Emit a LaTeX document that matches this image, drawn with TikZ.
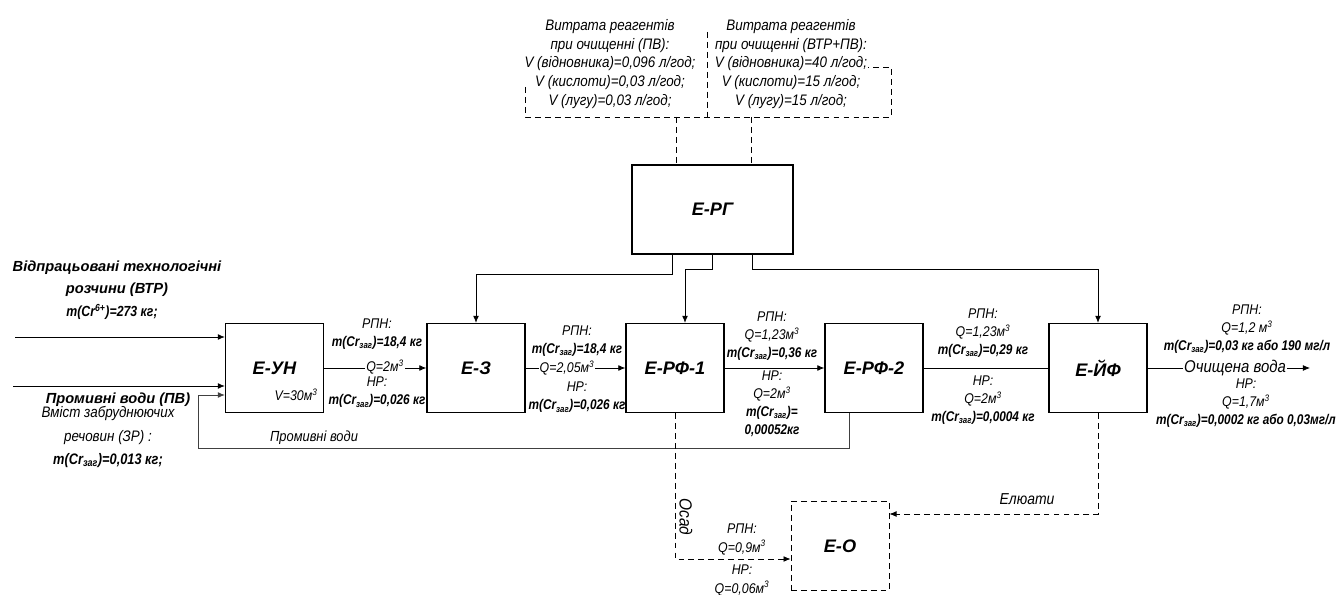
\documentclass[tikz,border=0pt]{standalone}
\usepackage{fontspec}
\setmainfont{Liberation Sans}
\newfontfamily\narrowbf[FakeStretch=0.84]{Liberation Sans}
\newfontfamily\narrowrm[FakeStretch=0.88]{Liberation Sans}
\usepackage{tikz}
\usetikzlibrary{arrows.meta,calc,positioning}

\newcommand{\mzag}{m(Cr\textsubscript{заг})}
\newcommand{\bval}[1]{{\narrowbf\bfseries\itshape #1}}
\newcommand{\kub}{м\textsuperscript{3}}

\begin{document}
\begin{tikzpicture}[x=0.03cm, y=-0.03cm, >={Latex[length=6pt,width=5pt]},
    unit/.style={draw, line width=1.1pt, minimum width=2.94cm, minimum height=2.67cm,
        font=\fontsize{15.5}{18}\selectfont\bfseries\itshape},
    dunit/.style={line width=0.8pt, dash pattern=on 5pt off 3.5pt},
    flow/.style={line width=0.7pt},
    dflow/.style={flow, dash pattern=on 5pt off 3.5pt},
    lbl/.style={align=center, inner sep=0pt, font=\narrowrm\fontsize{12}{15.5}\selectfont\itshape},
    toptxt/.style={align=center, inner sep=0pt, font=\narrowrm\fontsize{13}{16}\selectfont\itshape},
    title/.style={align=center, inner sep=0pt, font=\fontsize{12.5}{18.5}\selectfont\bfseries\itshape}]
    \useasboundingbox (0,0) rectangle (1340,595);

    % units
    \node[unit] (uh) at (274.5,368) {Е-УН};
    \node[unit] (ez) at (476,368) {Е-З};
    \node[unit] (rf1) at (675,368) {Е-РФ-1};
    \node[unit] (rf2) at (874,368) {Е-РФ-2};
    \node[unit] (yf) at (1098,368) {Е-ЙФ};
    \node[unit, minimum width=4.83cm] (rg) at (712.5,209.5) {Е-РГ};
    \node[unit, dunit] (eo) at (840,546) {Е-О};
    \node[lbl] (vol) at (296,395) {V=30\kub};

    % reagents
    \node[toptxt] (reaL) at (610,64) {Витрата реагентів\\при очищенні (ПВ):\\V (відновника)=0,096 л/год;\\V (кислоти)=0,03 л/год;\\V (лугу)=0,03 л/год;};
    \node[toptxt] (reaR) at (791,64) {Витрата реагентів\\при очищенні (ВТР+ПВ):\\V (відновника)=40 л/год;\\V (кислоти)=15 л/год;\\V (лугу)=15 л/год;};
    \draw[dflow] (525,87) -- (525,117) -- (891,117) -- (891,67) -- (868,67);
    \draw[dflow] (707,32) -- (707,117);
    \coordinate (bL) at (676,117);
    \coordinate (bR) at (751,117);
    \draw[dflow] (bL) -- (bL |- rg.north);
    \draw[dflow] (bR) -- (bR |- rg.north);

    % regenerant feeds
    \draw[flow,->] ($(rg.south)+(-40,0)$) -- ++(0,20) -| (ez.north);
    \draw[flow,->] (rg.south) -- ++(0,15) -| ($(rf1.north)+(10,0)$);
    \draw[flow,->] ($(rg.south)+(40,0)$) -- ++(0,15) -| (yf.north);

    % main line
    \draw[flow,->] (uh) -- (ez);
    \draw[flow,->] (ez) -- (rf1);
    \draw[flow,->] (rf1) -- (rf2);
    \draw[flow] (rf2) -- (yf);
    \node[inner sep=1pt, font=\narrowrm\fontsize{14.5}{16}\selectfont\itshape] (ov) at (1235,368) {Очищена вода};
    \coordinate (out) at (1310,368);
    \draw[flow] (yf) -- (ov);
    \draw[flow,->] (ov) -- (out);

    % stream labels
    \node[lbl] (l1a) at (377,334) {РПН:\\\bval{\mzag=18,4 кг}};
    \node[lbl, fill=white, inner sep=1pt] (l1q) at (385,367) {Q=2\kub};
    \node[lbl] (l1b) at (377,392.5) {НР:\\\bval{\mzag=0,026 кг}};
    \node[lbl] (l2a) at (577,341) {РПН:\\\bval{\mzag=18,4 кг}};
    \node[lbl, fill=white, inner sep=1pt] (l2q) at (567,368) {Q=2,05\kub};
    \node[lbl] (l2b) at (577,397.5) {НР:\\\bval{\mzag=0,026 кг}};
    \node[lbl] (l3a) at (772,336) {РПН:\\Q=1,23\kub\\\bval{\mzag=0,36 кг}};
    \node[lbl] (l3b) at (772,404) {НР:\\Q=2\kub\\\bval{\mzag=}\\\bval{0,00052кг}};
    \node[lbl] (l4a) at (983,333) {РПН:\\Q=1,23\kub\\\bval{\mzag=0,29 кг}};
    \node[lbl] (l4b) at (983,400) {НР:\\Q=2\kub\\\bval{\mzag=0,0004 кг}};
    \node[lbl] (l5a) at (1247,329) {РПН:\\Q=1,2 \kub\\\bval{\mzag=0,03 кг або 190 мг/л}};
    \node[lbl] (l5b) at (1246,403) {НР:\\Q=1,7\kub\\\bval{\mzag=0,0002 кг або 0,03мг/л}};

    % inputs
    \node[title] (vtr) at (117,279) {Відпрацьовані технологічні\\розчини (ВТР)};
    \node[inner sep=0pt, font=\fontsize{12.5}{14}\selectfont] (vtrm) at (112,312) {\bval{m(Cr\textsuperscript{6+})=273 кг;}};
    \node[title] (pv) at (118,400) {Промивні води (ПВ)};
    \node[lbl, font=\narrowrm\fontsize{13}{20}\selectfont\itshape] (pvz) at (108,437) {Вміст забруднюючих\\речовин (ЗР) :\\\bval{\mzag=0,013 кг;}};
    \coordinate (in1) at (15,337);
    \coordinate (in2) at (13,386);
    \draw[flow,->] (in1) -- (in1 -| uh.west);
    \draw[flow,->] (in2) -- (in2 -| uh.west);

    % wash water return
    \coordinate (lp) at (198,448);
    \draw[flow, black!75, ->] ($(rf2.south)+(-25,0)$) |- (lp) |- ($(uh.west)+(0,27)$);
    \node[lbl, font=\narrowrm\fontsize{12.5}{13}\selectfont\itshape] (pvr) at (314,438) {Промивні води};

    % sludge and eluates
    \draw[dflow,->] (rf1.south) |- ($(eo.west)+(0,13)$);
    \draw[dflow,->] (yf.south) |- ($(eo.east)+(0,-32)$);
    \node[inner sep=0pt, rotate=-90, font=\narrowrm\fontsize{15}{15}\selectfont\itshape] (osad) at (686,517) {Осад};
    \node[lbl] (l6a) at (742,539.5) {РПН:\\Q=0,9\kub};
    \node[lbl] (l6b) at (742,580.5) {НР:\\Q=0,06\kub};
    \node[inner sep=0pt, font=\narrowrm\fontsize{13.5}{14}\selectfont\itshape] (elu) at (1027,499) {Елюати};
\end{tikzpicture}
\end{document}
